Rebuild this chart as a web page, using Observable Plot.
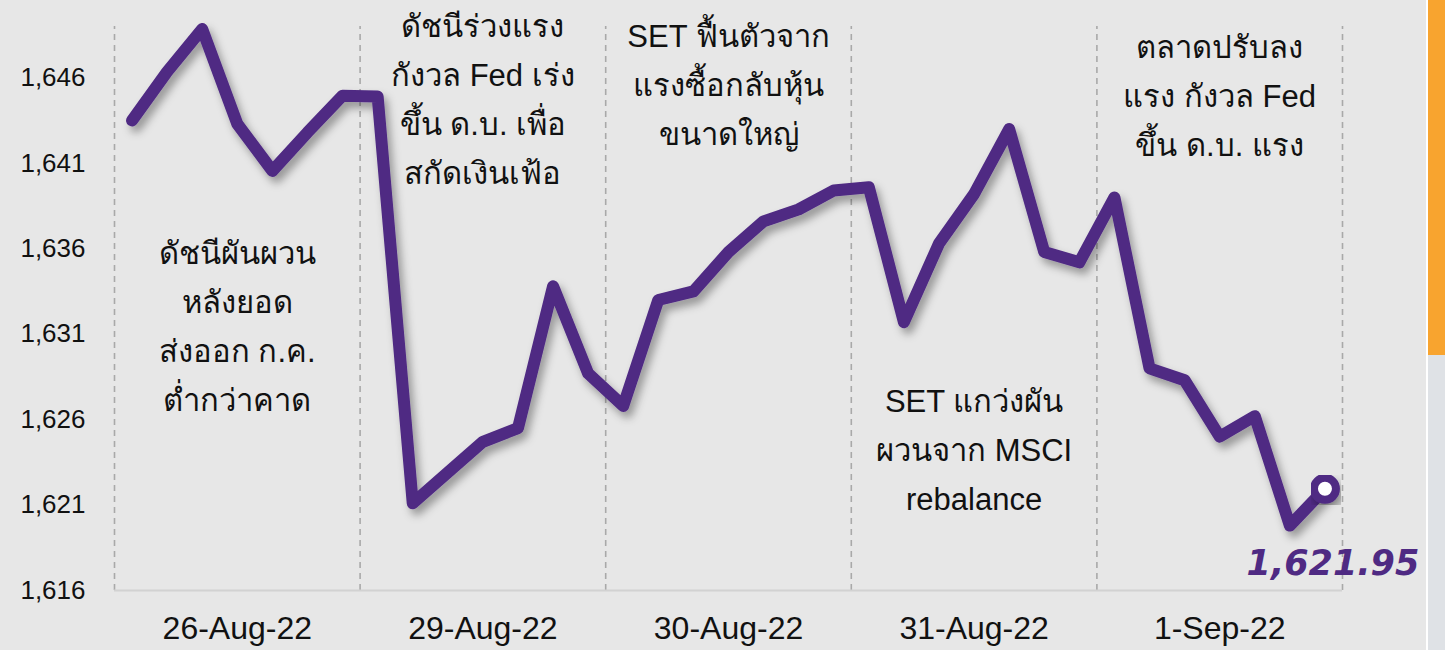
<!DOCTYPE html>
<html>
<head>
<meta charset="utf-8">
<script src="https://cdn.jsdelivr.net/npm/d3@7"></script>
<script src="https://cdn.jsdelivr.net/npm/@observablehq/plot@0.6"></script>
<style>
  body { margin: 0; background: #e7e7e7; }
  #wrap { position: relative; width: 1445px; height: 650px; overflow: hidden; background: #e7e7e7; }
  #chart { position: absolute; left: 0; top: 0; }
</style>
</head>
<body>
<div id="wrap">
  <div id="chart"></div>
  <div style="position:absolute;left:1426px;top:0;width:2px;height:650px;background:#ffffff"></div>
  <div style="position:absolute;left:1428px;top:355px;width:17px;height:295px;background:#dfe2e6"></div>
  <div style="position:absolute;left:1428px;top:0;width:17px;height:355px;background:#f8a42f"></div>
</div>
<script>
// ---- data ----
const days = ["26-Aug-22", "29-Aug-22", "30-Aug-22", "31-Aug-22", "1-Sep-22"];
const closes = [
  1643.5, 1646.35, 1648.85, 1643.3, 1640.55, 1642.8, 1644.95,
  1644.9, 1621.1, 1622.9, 1624.7, 1625.5, 1633.8, 1628.7,
  1626.8, 1633.0, 1633.5, 1635.8, 1637.6, 1638.3, 1639.4,
  1639.6, 1631.7, 1636.3, 1639.2, 1643.0, 1635.8, 1635.2,
  1639.0, 1629.0, 1628.3, 1625.0, 1626.2, 1619.8, 1621.95
];
const yTicks = [1616, 1621, 1626, 1631, 1636, 1641, 1646];
const notes = [
  "ดัชนีผันผวน\nหลังยอด\nส่งออก ก.ค.\nต่ำกว่าคาด",
  "ดัชนีร่วงแรง\nกังวล Fed เร่ง\nขึ้น ด.บ. เพื่อ\nสกัดเงินเฟ้อ",
  "SET ฟื้นตัวจาก\nแรงซื้อกลับหุ้น\nขนาดใหญ่",
  "SET แกว่งผัน\nผวนจาก MSCI\nrebalance",
  "ตลาดปรับลง\nแรง กังวล Fed\nขึ้น ด.บ. แรง"
];
const lastLabel = "1,621.95";

// ---- layout ----
const perDay = 7;
const noteLevel = [1631.7, 1645.0, 1645.85, 1624.5, 1645.2];
const purple = "#4f2a83";
const font = "'Liberation Sans', Arial, 'Noto Sans', sans-serif";

const chart = Plot.plot({
  width: 1445,
  height: 650,
  marginLeft: 114,
  marginRight: 103,
  marginTop: 26,
  marginBottom: 60,
  style: { background: "transparent", fontFamily: font, color: "#111" },
  x: { domain: [0, days.length * perDay], axis: null },
  y: { domain: [1616, 1649], axis: null },
  marks: [
    Plot.ruleX(d3.range(days.length + 1).map(d => d * perDay), {
      y1: 1616, y2: 1649, stroke: "#a9a9a9", strokeWidth: 1.6, strokeDasharray: "6,5"
    }),
    Plot.ruleY([1616], { stroke: "#d2d2d2", strokeWidth: 2 }),
    Plot.axisY(yTicks, {
      tickSize: 0, tickPadding: 29, fontSize: 26, fill: "#111",
      tickFormat: d3.format(",d")
    }),
    Plot.axisX(days.map((d, i) => i * perDay + perDay / 2), {
      tickSize: 0, tickPadding: 26, fontSize: 32, fill: "#111",
      tickFormat: d => days[Math.floor(d / perDay)]
    }),
    Plot.text(notes, {
      x: (d, i) => i * perDay + perDay / 2,
      y: (d, i) => noteLevel[i],
      text: d => d,
      fontSize: 31,
      lineHeight: 1.58,
      fill: "#111"
    }),
    Plot.line(closes, {
      x: (d, i) => i + 0.5, y: d => d,
      stroke: purple, strokeWidth: 12,
      strokeLinejoin: "round", strokeLinecap: "round"
    }),
    Plot.dot([closes[closes.length - 1]], {
      x: () => closes.length - 0.5, y: d => d,
      r: 11, fill: "white", stroke: purple, strokeWidth: 8
    }),
    Plot.text([lastLabel], {
      x: () => closes.length - 0.5, y: () => closes[closes.length - 1],
      text: d => d, dx: 8, dy: 75,
      fontSize: 35, fontWeight: "bold", fontStyle: "italic",
      fontFamily: "'DejaVu Sans', sans-serif", fill: purple
    })
  ]
});

// drop shadow under the line
const svg = d3.select(chart);
const defs = svg.insert("defs", ":first-child");
const f = defs.append("filter").attr("id", "shadow")
  .attr("x", "-10%").attr("y", "-10%").attr("width", "130%").attr("height", "130%");
f.append("feDropShadow").attr("dx", 4).attr("dy", 6).attr("stdDeviation", 4)
  .attr("flood-color", "#000").attr("flood-opacity", 0.35);
svg.selectAll("g[aria-label='line'], g[aria-label='dot']").attr("filter", "url(#shadow)");

document.getElementById("chart").appendChild(chart);
</script>
</body>
</html>
